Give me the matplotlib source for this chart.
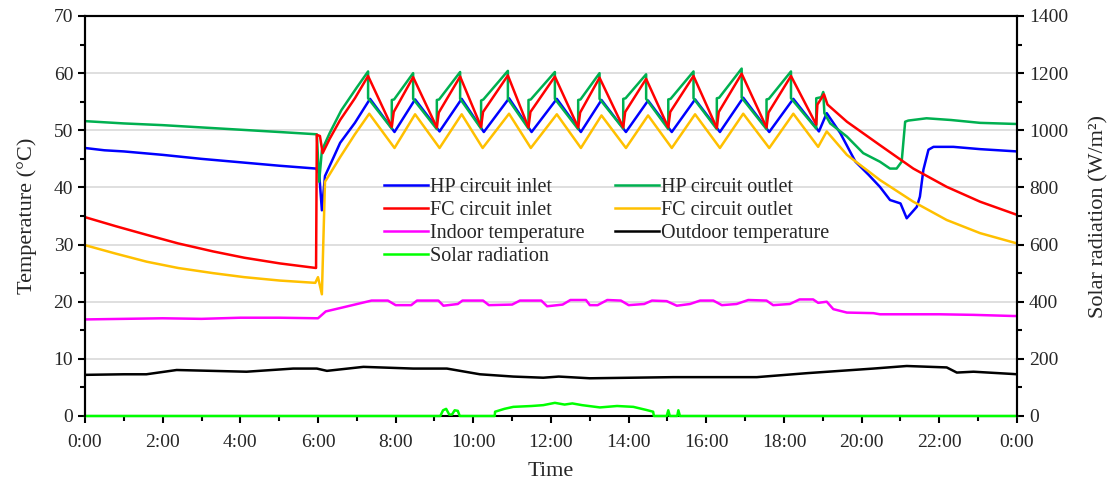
import matplotlib
matplotlib.use("Agg")
import matplotlib.pyplot as plt
from matplotlib.ticker import MultipleLocator, FuncFormatter

plt.rcParams['font.family'] = ['Liberation Serif', 'DejaVu Serif']

# ---------------- data (time in hours, temperature in degC, radiation in W/m2) ----------------
hp_out_t = [0.0, 1.0, 2.0, 3.0, 4.0, 5.0, 5.97, 6.03, 6.1, 6.3, 6.6, 7.0, 7.29,
            7.29, 7.90, 7.90, 7.96, 8.45, 8.45, 9.06, 9.06, 9.12, 9.66, 9.66,
            10.2, 10.2, 10.26, 10.89, 10.89, 11.42, 11.42, 11.48, 12.10, 12.10,
            12.70, 12.70, 12.76, 13.25, 13.25, 13.86, 13.86, 13.92, 14.45, 14.45,
            15.02, 15.02, 15.08, 15.67, 15.67, 16.27, 16.27, 16.33, 16.91, 16.91,
            17.55, 17.55, 17.61, 18.18, 18.18, 18.83, 18.83, 18.96, 19.01, 19.04,
            19.19, 19.62, 20.04, 20.47, 20.73, 20.9, 21.03, 21.12, 21.2, 21.67,
            22.3, 23.05, 24.0]
hp_out_v = [51.6, 51.2, 50.9, 50.5, 50.1, 49.7, 49.3, 41.0, 46.5, 49.5, 53.5, 57.5, 60.3,
            55.6, 50.3, 55.3, 55.4, 60.0, 55.5, 50.2, 55.3, 55.4, 60.2, 55.5,
            50.3, 55.2, 55.4, 60.4, 55.5, 50.3, 55.3, 55.4, 60.2, 55.5,
            50.2, 55.3, 55.4, 60.0, 55.5, 50.3, 55.5, 55.6, 59.8, 55.5,
            50.2, 55.4, 55.5, 60.3, 55.6, 50.2, 55.6, 55.7, 60.8, 55.7,
            50.2, 55.4, 55.5, 60.3, 55.6, 50.3, 55.6, 55.8, 56.7, 53.0,
            51.2, 48.9, 46.0, 44.5, 43.3, 43.3, 44.5, 51.5, 51.7, 52.1,
            51.8, 51.3, 51.1]

fc_in_t = [0.0, 0.8, 1.59, 2.4, 3.3, 4.1, 5.02, 5.95, 5.97, 6.05, 6.12, 6.3, 6.57, 6.95,
           7.29, 7.90, 7.95, 8.45, 9.06, 9.11, 9.66, 10.2, 10.25, 10.89, 11.42, 11.47,
           12.10, 12.70, 12.75, 13.25, 13.86, 13.91, 14.45, 15.02, 15.07, 15.67, 16.27,
           16.32, 16.91, 17.55, 17.60, 18.18, 18.83, 18.86, 19.03, 19.12, 19.62, 20.47,
           21.33, 22.19, 23.05, 24.0]
fc_in_v = [34.8, 33.2, 31.7, 30.2, 28.8, 27.7, 26.7, 25.9, 49.2, 49.0, 46.0, 48.5, 51.8, 55.6,
           59.5, 50.6, 53.2, 59.3, 50.5, 53.1, 59.4, 50.6, 53.2, 59.6, 50.5, 53.2,
           59.4, 50.5, 53.1, 59.2, 50.5, 53.2, 59.0, 50.5, 53.2, 59.5, 50.4,
           53.2, 59.9, 50.5, 53.1, 59.5, 51.0, 54.5, 56.3, 54.5, 51.5, 47.4,
           43.3, 40.1, 37.5, 35.2]

hp_in_t = [0.0, 0.5, 1.0, 2.0, 3.0, 4.0, 5.0, 5.95, 6.03, 6.1, 6.18, 6.35, 6.57, 6.95,
           7.34, 7.97, 8.50, 9.13, 9.70, 10.27, 10.92, 11.50, 12.15, 12.77, 13.30, 13.93,
           14.50, 15.11, 15.71, 16.35, 16.95, 17.62, 18.24, 18.90, 19.10, 19.45, 19.84,
           20.18, 20.47, 20.73, 21.0, 21.16, 21.42, 21.5, 21.59, 21.72, 21.85, 22.36,
           23.05, 24.0]
hp_in_v = [46.9, 46.5, 46.3, 45.7, 45.0, 44.4, 43.8, 43.3, 42.5, 36.0, 42.0, 44.5, 47.8, 51.3,
           55.5, 49.7, 55.4, 49.8, 55.5, 49.7, 55.6, 49.7, 55.5, 49.7, 55.3, 49.7,
           55.2, 49.7, 55.4, 49.7, 55.7, 49.7, 55.5, 49.8, 53.0, 49.5, 44.5,
           42.2, 40.1, 37.8, 37.2, 34.6, 36.6, 38.4, 43.1, 46.6, 47.1, 47.1,
           46.7, 46.3]

fc_out_t = [0.0, 0.8, 1.59, 2.4, 3.3, 4.1, 5.02, 5.93, 6.0, 6.1, 6.18, 6.3, 6.57, 6.95,
            7.32, 7.97, 8.50, 9.13, 9.70, 10.24, 10.92, 11.48, 12.15, 12.77, 13.30, 13.93,
            14.50, 15.11, 15.71, 16.35, 16.95, 17.62, 18.24, 18.88, 19.10, 19.62, 20.47,
            21.33, 22.19, 23.05, 24.0]
fc_out_v = [29.9, 28.4, 27.0, 25.9, 25.0, 24.3, 23.7, 23.3, 24.3, 21.3, 41.0, 42.3, 45.3, 49.3,
            52.9, 46.9, 52.8, 46.9, 52.8, 46.9, 52.9, 46.9, 52.8, 46.9, 52.6, 46.9,
            52.6, 46.9, 52.8, 46.9, 52.9, 46.9, 52.9, 47.1, 49.8, 45.7, 41.3,
            37.5, 34.3, 32.0, 30.2]

indoor_t = [0, 1, 2, 3, 4, 5, 6.0, 6.2, 6.7, 7.38, 7.8, 8.0, 8.4, 8.55, 9.1, 9.23, 9.6,
            9.72, 10.25, 10.4, 11.0, 11.2, 11.75, 11.9, 12.3, 12.5, 12.9, 13.0, 13.2,
            13.45, 13.8, 14.0, 14.4, 14.6, 14.98, 15.24, 15.58, 15.84, 16.18, 16.4,
            16.78, 17.08, 17.55, 17.72, 18.15, 18.4, 18.75, 18.88, 19.1, 19.27, 19.62,
            20.3, 20.47, 22.0, 22.88, 23.9, 24.0]
indoor_v = [16.9, 17.0, 17.1, 17.0, 17.2, 17.2, 17.1, 18.3, 19.1, 20.2, 20.2, 19.4, 19.4,
            20.2, 20.2, 19.3, 19.6, 20.2, 20.2, 19.4, 19.5, 20.2, 20.2, 19.2, 19.5,
            20.3, 20.3, 19.4, 19.4, 20.3, 20.2, 19.4, 19.6, 20.2, 20.1, 19.3, 19.6,
            20.2, 20.2, 19.4, 19.6, 20.3, 20.2, 19.4, 19.6, 20.4, 20.4, 19.8, 20.0,
            18.7, 18.1, 18.0, 17.8, 17.8, 17.7, 17.5, 17.5]

outdoor_t = [0, 1.0, 1.58, 2.36, 4.16, 5.36, 5.97, 6.23, 7.17, 8.45, 9.32, 10.17, 11.03,
             11.8, 12.2, 13.0, 15.15, 17.3, 18.6, 20.3, 21.16, 22.19, 22.45, 22.88,
             23.9, 24.0]
outdoor_v = [7.2, 7.3, 7.3, 8.05, 7.75, 8.3, 8.3, 7.9, 8.6, 8.3, 8.3, 7.3, 6.9,
             6.7, 6.9, 6.6, 6.8, 6.8, 7.5, 8.3, 8.75, 8.5, 7.6, 7.75,
             7.35, 7.3]

solar_t = [0, 9.15, 9.22, 9.3, 9.38, 9.45, 9.52, 9.6, 9.65, 10.55, 10.56, 10.8, 11.03,
           11.5, 11.8, 12.1, 12.35, 12.55, 12.8, 13.26, 13.7, 14.12, 14.46, 14.63, 14.65,
           14.98, 15.02, 15.06, 15.25, 15.28, 15.32, 24]
solar_v = [0, 0, 20, 25, 5, 5, 20, 18, 0, 0, 15, 25, 32,
           35, 38, 46, 40, 44, 38, 30, 35, 32, 21, 15, 0,
           0, 20, 0, 0, 20, 0, 0]

# ---------------- figure ----------------
W, H = 1110, 483
fig = plt.figure(figsize=(W / 100, H / 100), dpi=100)
ax = fig.add_axes([85 / W, 1 - 416 / H, 932 / W, 400 / H])
ax2 = ax.twinx()

text_color = '#262626'
lw = 1.8

l_hpin, = ax.plot(hp_in_t, hp_in_v, color='#0000FF', lw=lw, label='HP circuit inlet')
l_hpout, = ax.plot(hp_out_t, hp_out_v, color='#00B050', lw=lw, label='HP circuit outlet')
l_fcin, = ax.plot(fc_in_t, fc_in_v, color='#FF0000', lw=lw, label='FC circuit inlet')
l_fcout, = ax.plot(fc_out_t, fc_out_v, color='#FFC000', lw=lw, label='FC circuit outlet')
l_in, = ax.plot(indoor_t, indoor_v, color='#FF00FF', lw=lw, label='Indoor temperature')
l_out, = ax.plot(outdoor_t, outdoor_v, color='#000000', lw=lw, label='Outdoor temperature')
l_sol, = ax2.plot(solar_t, solar_v, color='#00FF00', lw=lw, label='Solar radiation',
                  clip_on=False)

ax.set_xlim(0, 24)
ax.set_ylim(0, 70)
ax2.set_ylim(0, 1400)

ax.xaxis.set_major_locator(MultipleLocator(2))
ax.xaxis.set_minor_locator(MultipleLocator(1))
ax.xaxis.set_major_formatter(FuncFormatter(lambda v, p: f"{int(round(v)) % 24}:00"))
ax.yaxis.set_major_locator(MultipleLocator(10))
ax.yaxis.set_minor_locator(MultipleLocator(5))
ax2.yaxis.set_major_locator(MultipleLocator(200))
ax2.yaxis.set_minor_locator(MultipleLocator(100))

ax.grid(axis='y', which='major', color='#D9D9D9', lw=1.2)
ax.set_axisbelow(True)

for a in (ax, ax2):
    a.tick_params(axis='both', which='major', direction='out', length=5, width=1.5,
                  labelsize=14, colors='black', labelcolor=text_color)
    a.tick_params(axis='both', which='minor', direction='out', length=3.5, width=1.5,
                  colors='black')
    for s in a.spines.values():
        s.set_linewidth(1.5)
        s.set_color('black')
ax2.spines['bottom'].set_visible(False)
ax.tick_params(axis='x', which='major', pad=8)

ax.set_xlabel('Time', fontsize=16, color=text_color, labelpad=8)
ax.set_ylabel('Temperature (°C)', fontsize=16, color=text_color, labelpad=12)
ax2.set_ylabel('Solar radiation (W/m²)', fontsize=16, color=text_color, labelpad=15)

handles = [l_hpin, l_fcin, l_in, l_sol, l_hpout, l_fcout, l_out]
ax.legend(handles=handles, labels=[h.get_label() for h in handles], ncol=2,
          loc='upper left', bbox_to_anchor=(0.3208, 0.595), frameon=False,
          fontsize=14.5, handlelength=2.2, handletextpad=0.1, columnspacing=1.5,
          labelspacing=0.2, borderpad=0, borderaxespad=0, labelcolor=text_color)

fig.savefig('out.png', dpi=100)
